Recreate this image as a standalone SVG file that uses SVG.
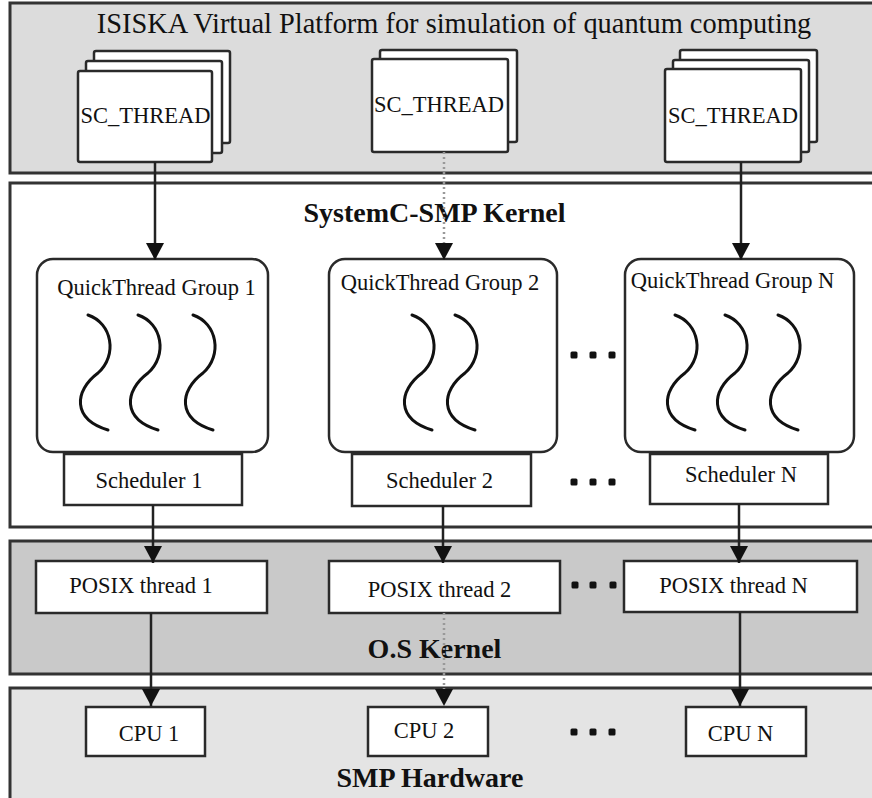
<svg xmlns="http://www.w3.org/2000/svg" xmlns:xlink="http://www.w3.org/1999/xlink" width="872" height="798" viewBox="0 0 872 798">
<defs>
<style>
.panel{stroke:#333;stroke-width:3}
.box{fill:#fff;stroke:#2a2a2a;stroke-width:2.5}
.t{font-family:"Liberation Serif","Times New Roman",serif;font-size:22.5px;fill:#111;text-anchor:middle}
.big{font-family:"Liberation Serif","Times New Roman",serif;font-size:28.4px;fill:#111;text-anchor:middle}
.bold{font-family:"Liberation Serif","Times New Roman",serif;font-size:28px;font-weight:bold;fill:#111;text-anchor:middle}
.conn{stroke:#222;stroke-width:2.5;fill:none}
.dot{stroke:#999;stroke-width:2.5;stroke-dasharray:2 3;fill:none}
.sq{stroke:#111;stroke-width:3;fill:none;stroke-linecap:round}
.d{fill:#111}
</style>
<marker id="arr" markerUnits="userSpaceOnUse" markerWidth="18" markerHeight="18" refX="17" refY="9" orient="auto">
<path d="M0,0 L17,9 L0,18 z" fill="#111"/>
</marker>
<path id="squig" d="M0,0 C24,8 30,40 10,58 C-14,76 -16,104 20,115"/>
<rect id="dt" x="-3.5" y="-3.5" width="7" height="7" rx="1.5"/>
</defs>

<g id="layers">
<rect class="panel" x="10" y="3" width="880" height="170" fill="#dcdcdc"/>
<rect class="panel" x="10" y="183" width="880" height="344" fill="#ffffff"/>
<rect class="panel" x="10" y="541" width="880" height="133" fill="#c9c9c9"/>
<rect class="panel" x="10" y="688" width="880" height="130" fill="#e4e4e4"/>
<text class="big" x="454" y="33">ISISKA Virtual Platform for simulation of quantum computing</text>
<text class="bold" x="434.5" y="222">SystemC-SMP Kernel</text>
<text class="bold" x="434.5" y="658">O.S Kernel</text>
<text class="bold" x="430" y="787">SMP Hardware</text>
</g>

<g id="sc_thread_1">
<rect class="box" x="94" y="51" width="136" height="92" rx="2"/>
<rect class="box" x="86" y="61" width="136" height="92" rx="2"/>
<rect class="box" x="78" y="71" width="134" height="91" rx="2"/>
<text class="t" x="145.5" y="123">SC_THREAD</text>
</g>
<g id="sc_thread_2">
<rect class="box" x="380" y="50" width="137" height="92" rx="2"/>
<rect class="box" x="372" y="59" width="136" height="93" rx="2"/>
<text class="t" x="439" y="112">SC_THREAD</text>
</g>
<g id="sc_thread_n">
<rect class="box" x="680" y="50" width="137" height="92" rx="2"/>
<rect class="box" x="673" y="60" width="136" height="92" rx="2"/>
<rect class="box" x="665" y="69" width="136" height="93" rx="2"/>
<text class="t" x="733" y="123">SC_THREAD</text>
</g>

<g id="qt_group_1">
<rect class="box" x="37" y="259" width="231" height="193" rx="16"/>
<text class="t" x="156.5" y="295">QuickThread Group 1</text>
<use href="#squig" class="sq" x="88" y="315"/>
<use href="#squig" class="sq" x="138" y="315"/>
<use href="#squig" class="sq" x="193" y="315"/>
</g>
<g id="qt_group_2">
<rect class="box" x="329" y="259" width="228" height="193" rx="16"/>
<text class="t" x="440" y="290">QuickThread Group 2</text>
<use href="#squig" class="sq" x="412" y="315"/>
<use href="#squig" class="sq" x="455" y="315"/>
</g>
<g id="qt_group_n">
<rect class="box" x="625" y="259" width="229" height="193" rx="16"/>
<text class="t" x="732.5" y="288">QuickThread Group N</text>
<use href="#squig" class="sq" x="675" y="315"/>
<use href="#squig" class="sq" x="725" y="315"/>
<use href="#squig" class="sq" x="778" y="315"/>
</g>

<g id="scheduler_1">
<rect class="box" x="64" y="454" width="178" height="51"/>
<text class="t" x="149" y="488">Scheduler 1</text>
</g>
<g id="scheduler_2">
<rect class="box" x="352" y="454" width="179" height="52"/>
<text class="t" x="439.5" y="488">Scheduler 2</text>
</g>
<g id="scheduler_n">
<rect class="box" x="650" y="454" width="178" height="50"/>
<text class="t" x="741" y="482">Scheduler N</text>
</g>

<g id="posix_1">
<rect class="box" x="36" y="561" width="231" height="52"/>
<text class="t" x="141" y="593">POSIX thread 1</text>
</g>
<g id="posix_2">
<rect class="box" x="329" y="561" width="231" height="52"/>
<text class="t" x="439.5" y="597">POSIX thread 2</text>
</g>
<g id="posix_n">
<rect class="box" x="624" y="561" width="233" height="51"/>
<text class="t" x="733.5" y="593">POSIX thread N</text>
</g>

<g id="cpu_1">
<rect class="box" x="86" y="707" width="119" height="49"/>
<text class="t" x="149" y="741">CPU 1</text>
</g>
<g id="cpu_2">
<rect class="box" x="368" y="707" width="120" height="49"/>
<text class="t" x="424" y="738">CPU 2</text>
</g>
<g id="cpu_n">
<rect class="box" x="686" y="707" width="120" height="49"/>
<text class="t" x="740.5" y="741">CPU N</text>
</g>

<g id="ellipses" class="d">
<use href="#dt" x="574" y="355"/><use href="#dt" x="593" y="355"/><use href="#dt" x="612" y="355"/>
<use href="#dt" x="574" y="482"/><use href="#dt" x="593" y="482"/><use href="#dt" x="612" y="482"/>
<use href="#dt" x="575" y="585"/><use href="#dt" x="593" y="585"/><use href="#dt" x="613" y="585"/>
<use href="#dt" x="574" y="732"/><use href="#dt" x="593" y="732"/><use href="#dt" x="612" y="732"/>
</g>

<g id="connectors">
<line class="conn" x1="155" y1="162" x2="155" y2="260" marker-end="url(#arr)"/>
<line class="dot" x1="444" y1="152" x2="444" y2="244"/>
<line class="conn" x1="444" y1="243" x2="444" y2="260" stroke-opacity="0" marker-end="url(#arr)"/>
<line class="conn" x1="741" y1="162" x2="741" y2="260" marker-end="url(#arr)"/>
<line class="conn" x1="153" y1="505" x2="153" y2="563" marker-end="url(#arr)"/>
<line class="conn" x1="443" y1="506" x2="443" y2="563" marker-end="url(#arr)"/>
<line class="conn" x1="739" y1="504" x2="739" y2="563" marker-end="url(#arr)"/>
<line class="conn" x1="151" y1="613" x2="151" y2="706" marker-end="url(#arr)"/>
<line class="dot" x1="444" y1="613" x2="444" y2="690"/>
<line class="conn" x1="444" y1="689" x2="444" y2="706" stroke-opacity="0" marker-end="url(#arr)"/>
<line class="conn" x1="740" y1="612" x2="740" y2="706" marker-end="url(#arr)"/>
</g>
</svg>
